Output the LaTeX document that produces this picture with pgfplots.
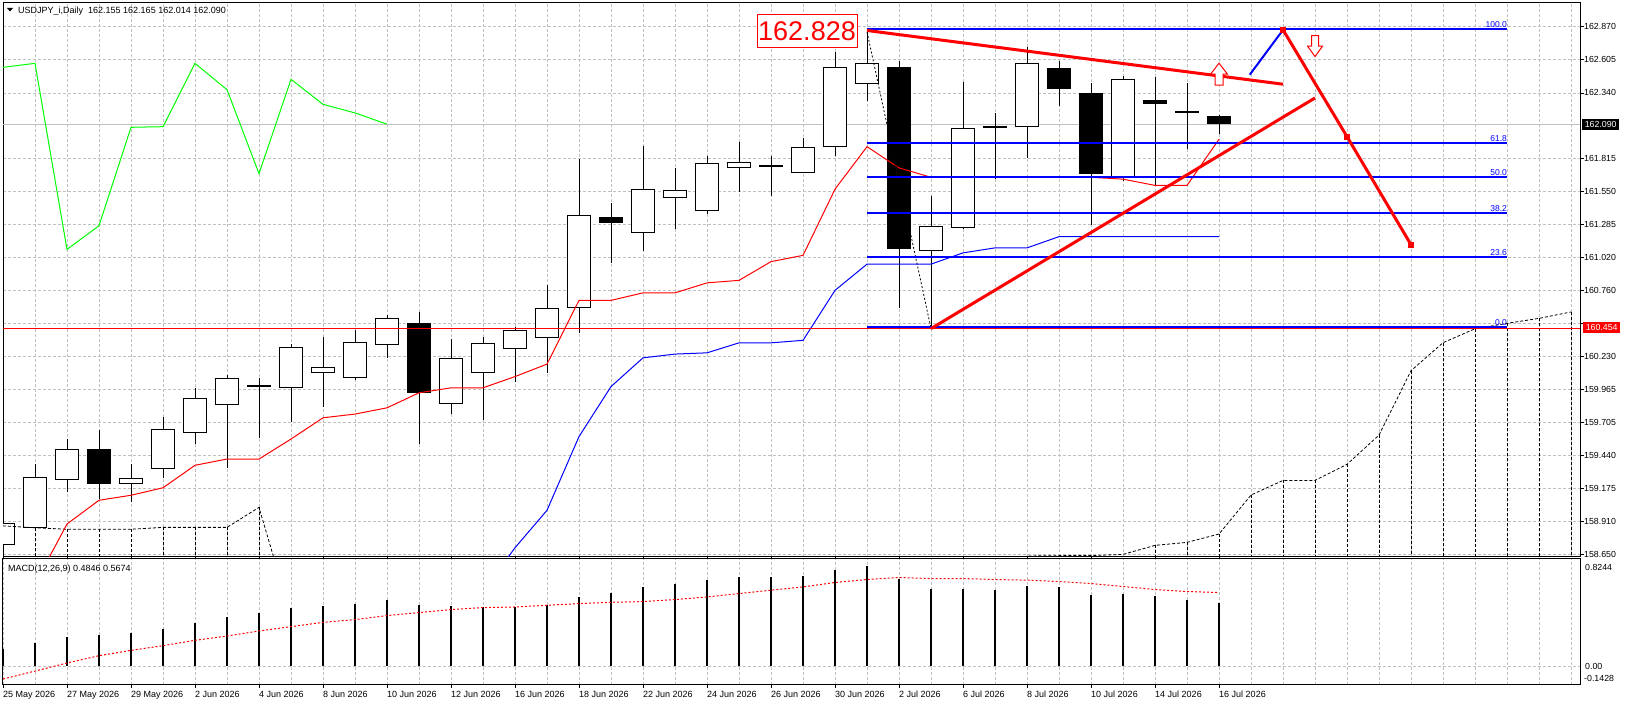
\documentclass[border=0pt]{standalone}
\usepackage{fontspec}
\setmainfont{Liberation Sans}
\usepackage{pgfplots}
\usepackage{pgfplotstable}
\pgfplotsset{compat=1.18}
\definecolor{gridc}{RGB}{192,192,192}
\definecolor{mtblue}{RGB}{0,0,255}
\definecolor{mtred}{RGB}{255,0,0}
\definecolor{mtgreen}{RGB}{0,255,0}
\newcommand\tk{\fontsize{8.8}{10}\selectfont}
\newcommand\hd{\fontsize{9}{11}\selectfont}

% daily candles: bar index, open, high, low, close
\pgfplotstableread{
i o h l c
0 158.72 159.02 158.70 158.90
1 158.86 159.37 158.85 159.27
2 159.24 159.57 159.15 159.49
3 159.49 159.64 159.09 159.21
4 159.21 159.37 159.07 159.26
5 159.33 159.75 159.26 159.65
6 159.62 159.98 159.53 159.90
7 159.84 160.08 159.34 160.06
8 159.99 160.06 159.58 160.00
9 159.98 160.33 159.71 160.31
10 160.10 160.39 159.83 160.15
11 160.06 160.44 160.04 160.35
12 160.32 160.56 160.22 160.54
13 160.50 160.59 159.53 159.94
14 159.85 160.37 159.77 160.22
15 160.10 160.39 159.72 160.34
16 160.29 160.47 160.03 160.44
17 160.38 160.80 160.10 160.62
18 160.62 161.81 160.42 161.36
19 161.35 161.46 160.98 161.30
20 161.22 161.92 161.08 161.57
21 161.50 161.74 161.25 161.56
22 161.40 161.84 161.37 161.78
23 161.74 161.95 161.55 161.79
24 161.76 161.84 161.52 161.75
25 161.70 161.98 161.70 161.91
26 161.91 162.67 161.84 162.55
27 162.41 162.828 162.28 162.58
28 162.55 162.60 160.62 161.09
29 161.08 161.52 160.454 161.28
30 161.26 162.43 161.25 162.06
31 162.06 162.18 161.65 162.07
32 162.07 162.71 161.82 162.58
33 162.54 162.60 162.24 162.37
34 162.34 162.42 161.28 161.69
35 161.67 162.48 161.64 162.45
36 162.28 162.47 161.60 162.25
37 162.20 162.42 161.89 162.18
38 162.155 162.165 162.014 162.090
}\ohlc

\pgfplotstableread{
i v
1 158.41
2 158.89
3 159.08
4 159.12
5 159.18
6 159.36
7 159.41
8 159.41
9 159.57
10 159.74
11 159.77
12 159.82
13 159.94
14 159.98
15 159.98
16 160.07
17 160.17
18 160.68
19 160.68
20 160.74
21 160.74
22 160.82
23 160.84
24 160.99
25 161.04
26 161.57
27 161.91
28 161.74
29 161.665
30 161.665
31 161.665
32 161.665
33 161.665
34 161.665
35 161.65
36 161.60
37 161.60
38 161.97
}\tenkan

\pgfplotstableread{
i v
15 158.35
16 158.70
17 159.00
18 159.59
19 159.99
20 160.22
21 160.25
22 160.26
23 160.34
24 160.34
25 160.36
26 160.76
27 160.97
28 160.97
29 160.97
30 161.06
31 161.10
32 161.10
33 161.19
34 161.19
35 161.19
36 161.19
37 161.19
38 161.19
}\kijun

\pgfplotstableread{
i v
0 162.545
1 162.577
2 161.088
3 161.277
4 162.065
5 162.070
6 162.577
7 162.366
8 161.694
9 162.449
10 162.249
11 162.180
12 162.090
}\chikou

\pgfplotstableread{
i v
0 158.875
1 158.860
2 158.848
3 158.848
4 158.848
5 158.863
6 158.863
7 158.863
8 159.023
9 158.150
}\spanA

\pgfplotstableread{
i v
31 158.550
32 158.634
33 158.637
34 158.637
35 158.647
36 158.719
37 158.743
38 158.810
39 159.122
40 159.239
41 159.239
42 159.368
43 159.602
44 160.117
45 160.341
46 160.453
47 160.496
48 160.536
49 160.587
}\spanB

\pgfplotstableread{
i m s
0 0.133 -0.097
1 0.177 -0.036
2 0.223 0.026
3 0.238 0.082
4 0.254 0.123
5 0.285 0.159
6 0.331 0.200
7 0.377 0.233
8 0.408 0.272
9 0.446 0.305
10 0.462 0.338
11 0.477 0.359
12 0.508 0.390
13 0.469 0.413
14 0.462 0.436
15 0.454 0.451
16 0.456 0.456
17 0.469 0.469
18 0.531 0.482
19 0.562 0.492
20 0.608 0.497
21 0.631 0.513
22 0.662 0.533
23 0.685 0.559
24 0.685 0.585
25 0.692 0.610
26 0.738 0.644
27 0.769 0.667
28 0.669 0.682
29 0.592 0.674
30 0.592 0.674
31 0.585 0.667
32 0.615 0.662
33 0.608 0.651
34 0.546 0.636
35 0.554 0.613
36 0.538 0.590
37 0.508 0.575
38 0.485 0.567
}\macd

\begin{document}
\begin{tikzpicture}
\useasboundingbox (0pt,0pt) rectangle (1626pt,706pt);
\fill[white] (0pt,0pt) rectangle (1626pt,706pt);
% ================= main price panel =================
\begin{axis}[
  at={(3pt,149pt)}, anchor=south west,
  scale only axis, width=1577pt, height=554pt,
  xmin=0, xmax=49.28, ymin=158.626, ymax=163.060,
  axis line style={black, line width=1pt},
  xtick={0,...,49}, xticklabels={}, xtick style={draw=none},
  ytick={162.870,162.605,162.340,161.815,161.550,161.285,161.020,160.760,160.495,160.230,159.965,159.705,159.440,159.175,158.910,158.650},
  yticklabels={162.870,162.605,162.340,161.815,161.550,161.285,161.020,160.760,{},160.230,159.965,159.705,159.440,159.175,158.910,158.650},
  ytick pos=right, yticklabel pos=right,
  tick align=outside, major tick length=4pt,
  ytick style={black, line width=0.8pt},
  yticklabel style={font=\tk, anchor=west, inner sep=0pt},
  xmajorgrids, ymajorgrids,
  major grid style={gridc, line width=0.8pt, dash pattern=on 3pt off 2pt},
]
% current price line
\addplot[gridc, line width=1pt] coordinates {(0,162.090) (49.28,162.090)};
% candle wicks
\addplot[draw=none, mark=none, error bars/.cd, y dir=both, y explicit, error mark=none,
  error bar style={draw=black, solid, line width=1pt}]
  table[x=i, y expr={(\thisrow{h}+\thisrow{l})/2}, y error expr={(\thisrow{h}-\thisrow{l})/2}] {\ohlc};
% candle bodies (black outline / black body)
\addplot[draw=none, mark=none, error bars/.cd, y dir=both, y explicit, error mark=none,
  error bar style={draw=black, solid, line width=24pt}]
  table[x=i, y expr={(\thisrow{o}+\thisrow{c})/2}, y error expr={max(abs(\thisrow{c}-\thisrow{o}),0.016)/2}] {\ohlc};
% white inside of rising candles
\addplot[draw=none, mark=none, restrict expr to domain={\thisrow{c}-\thisrow{o}}{0.02:100},
  error bars/.cd, y dir=both, y explicit, error mark=none,
  error bar style={draw=white, solid, line width=22pt}]
  table[x=i, y expr={(\thisrow{o}+\thisrow{c})/2}, y error expr={(\thisrow{c}-\thisrow{o})/2-0.008}] {\ohlc};
% Ichimoku
\addplot[black, line width=0.8pt, dash pattern=on 3pt off 2pt] table[x=i,y=v] {\spanA};
\addplot[black, line width=0.8pt, dash pattern=on 3pt off 2pt] table[x=i,y=v] {\spanB};
\addplot[draw=none, mark=none, restrict x to domain=1:8, error bars/.cd, y dir=minus, y explicit, error mark=none,
  error bar style={draw=black, line width=0.8pt, dash pattern=on 3pt off 2pt}]
  table[x=i, y=v, y error expr={\thisrow{v}-158.4}] {\spanA};
\addplot[draw=none, mark=none, restrict x to domain=36:49, error bars/.cd, y dir=minus, y explicit, error mark=none,
  error bar style={draw=black, line width=0.8pt, dash pattern=on 3pt off 2pt}]
  table[x=i, y=v, y error expr={\thisrow{v}-158.4}] {\spanB};
\addplot[mtred, line width=1pt] table[x=i,y=v] {\tenkan};
\addplot[mtblue, line width=1pt] table[x=i,y=v] {\kijun};
\addplot[mtgreen, line width=1pt] table[x=i,y=v] {\chikou};
% Fibonacci retracement
\addplot[black, line width=0.8pt, dash pattern=on 2pt off 2pt] coordinates {(27,162.828) (29,160.454)};
\addplot[mtblue, line width=1.8pt] coordinates {(27,162.849) (47,162.849)};
\addplot[mtblue, line width=1.8pt] coordinates {(27,161.942) (47,161.942)};
\addplot[mtblue, line width=1.8pt] coordinates {(27,161.665) (47,161.665)};
\addplot[mtblue, line width=1.8pt] coordinates {(27,161.381) (47,161.381)};
\addplot[mtblue, line width=1.8pt] coordinates {(27,161.029) (47,161.029)};
\addplot[mtblue, line width=1.8pt] coordinates {(27,160.469) (47,160.469)};
\addplot[mtred, line width=1pt] coordinates {(0,160.456) (49.28,160.456)};
\node[font=\fontsize{8.5}{9}\selectfont, text=mtblue, anchor=south east, inner sep=0pt] at (axis cs:47,162.860) {100.0};
\node[font=\fontsize{8.5}{9}\selectfont, text=mtblue, anchor=south east, inner sep=0pt] at (axis cs:47,161.953) {61.8};
\node[font=\fontsize{8.5}{9}\selectfont, text=mtblue, anchor=south east, inner sep=0pt] at (axis cs:47,161.676) {50.0};
\node[font=\fontsize{8.5}{9}\selectfont, text=mtblue, anchor=south east, inner sep=0pt] at (axis cs:47,161.392) {38.2};
\node[font=\fontsize{8.5}{9}\selectfont, text=mtblue, anchor=south east, inner sep=0pt] at (axis cs:47,161.040) {23.6};
\node[font=\fontsize{8.5}{9}\selectfont, text=mtblue, anchor=south east, inner sep=0pt] at (axis cs:47,160.480) {0.0};
% trend lines and projection
\addplot[mtred, line width=3pt] coordinates {(27,162.84) (40,162.41)};
\addplot[mtred, line width=3pt] coordinates {(29,160.454) (41,162.30)};
\addplot[mtblue, line width=2pt] coordinates {(38.96,162.486) (40,162.845)};
\addplot[mtred, line width=3pt, mark=square*, mark size=2.5pt, mark options={fill=mtred, draw=mtred, line width=0.5pt}]
  coordinates {(40,162.845) (42,161.99) (44,161.125)};
% hollow arrows
\draw[mtred, fill=white, line width=1pt, line join=miter, shift={(axis cs:38,162.49)}]
  (-4pt,-11pt) -- (4pt,-11pt) -- (4pt,0pt) -- (8.5pt,0pt) -- (0pt,11pt) -- (-8.5pt,0pt) -- (-4pt,0pt) -- cycle;
\draw[mtred, fill=white, line width=1pt, line join=miter, shift={(axis cs:41,162.715)}]
  (-3.5pt,10.5pt) -- (3.5pt,10.5pt) -- (3.5pt,0pt) -- (7.5pt,0pt) -- (0pt,-10.5pt) -- (-7.5pt,0pt) -- (-3.5pt,0pt) -- cycle;
\end{axis}
% ================= MACD panel =================
\begin{axis}[
  at={(3pt,21pt)}, anchor=south west,
  scale only axis, width=1577pt, height=126pt,
  xmin=0, xmax=49.28, ymin=-0.1428, ymax=0.8244,
  axis line style={black, line width=1pt},
  xtick={0,...,49}, xticklabels={}, xtick style={draw=none},
  ytick={0}, yticklabels={}, ytick style={draw=none},
  xmajorgrids, ymajorgrids,
  major grid style={gridc, line width=0.8pt, dash pattern=on 3pt off 2pt},
  extra x ticks={0,2,...,38},
  extra x tick labels={25 May 2026,27 May 2026,29 May 2026,2 Jun 2026,4 Jun 2026,8 Jun 2026,10 Jun 2026,12 Jun 2026,16 Jun 2026,18 Jun 2026,22 Jun 2026,24 Jun 2026,26 Jun 2026,30 Jun 2026,2 Jul 2026,6 Jul 2026,8 Jul 2026,10 Jul 2026,14 Jul 2026,16 Jul 2026},
  extra x tick style={grid=none, tick align=outside, major tick length=3pt,
    xtick style={draw=black, line width=0.8pt},
    xticklabel style={font=\hd, anchor=north west, inner sep=0pt, yshift=-3pt}},
]
\addplot[ycomb, black, line width=2.2pt] table[x=i, y=m] {\macd};
\addplot[mtred, line width=1pt, dash pattern=on 2pt off 2pt] table[x=i, y=s] {\macd};
\end{axis}
% ================= labels =================
\fill[black] (7pt,698pt) -- (13pt,698pt) -- (10pt,694.5pt) -- cycle;
\node[font=\hd, anchor=west, inner sep=0pt] at (18pt,695.3pt) {USDJPY\_i,Daily\ \ 162.155 162.165 162.014 162.090};
\node[font=\hd, anchor=west, inner sep=0pt] at (8pt,137pt) {MACD(12,26,9) 0.4846 0.5674};
\node[font=\tk, anchor=west, inner sep=0pt] at (1585pt,139pt) {0.8244};
\node[font=\tk, anchor=west, inner sep=0pt] at (1585pt,40pt) {0.00};
\node[font=\tk, anchor=west, inner sep=0pt] at (1584pt,28pt) {-0.1428};
\node[font=\tk, fill=black, text=white, anchor=west, minimum width=37pt, minimum height=11.5pt, inner sep=0pt] at (1582pt,581.5pt) {162.090};
\node[font=\tk, fill=mtred, text=white, anchor=west, minimum width=37pt, minimum height=11.5pt, inner sep=0pt] at (1583pt,378.5pt) {160.454};
\node[font=\fontsize{27}{30}\selectfont, text=mtred, draw=mtred, fill=white, line width=1pt, minimum width=100pt, minimum height=33pt, inner sep=0pt] at (807pt,674.5pt) {162.828};
\end{tikzpicture}
\end{document}
